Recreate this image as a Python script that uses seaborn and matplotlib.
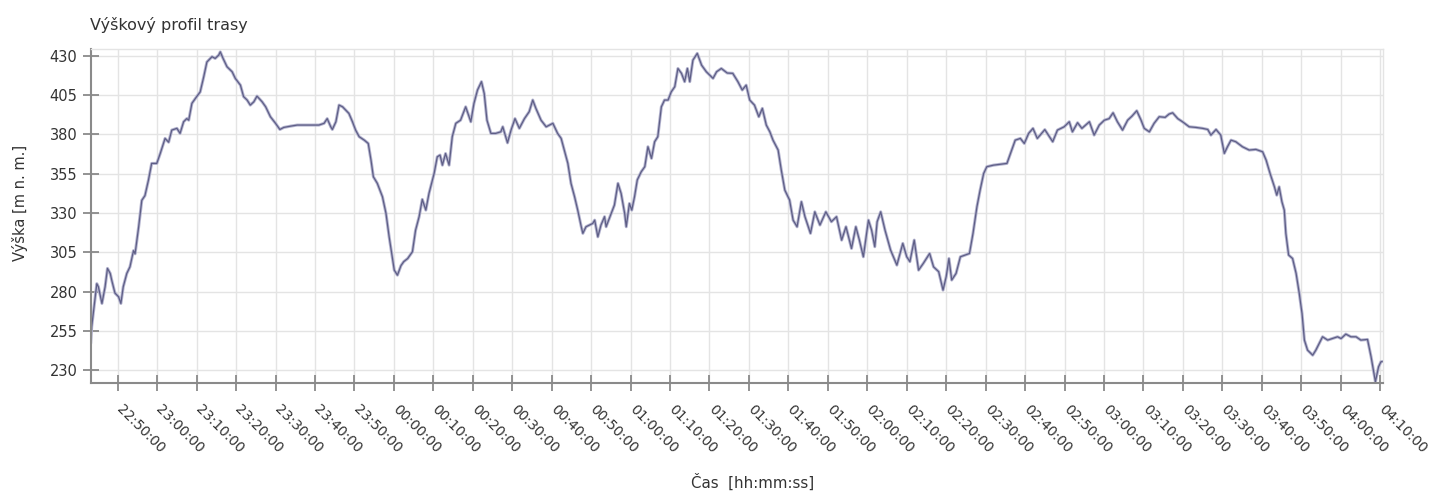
import numpy as np
import pandas as pd
import matplotlib
matplotlib.use("Agg")
import matplotlib.pyplot as plt
import matplotlib.dates as mdates
import matplotlib.transforms as mtransforms
import seaborn as sns

# -------------------------------------------------------------------------
# Data: minutes after 22:50:00 and elevation [m n. m.]
# -------------------------------------------------------------------------

START = "2000-01-01 22:50:00"

MINUTES = [
    -6.85, -6.6, -5.8, -5.3, -4.9, -4.0, -3.2, -2.6, -1.9, -1.5, -0.7, 0.2, 0.8,
    1.4, 2.3, 3.1, 4.0, 4.4, 5.3, 6.1, 6.9, 7.8, 8.6, 9.9, 10.8, 12.0, 12.9,
    13.7, 15.0, 15.8, 16.7, 17.5, 18.0, 18.8, 19.7, 20.9, 21.8, 22.6, 23.9,
    24.7, 25.6, 26.0, 26.7, 27.7, 29.0, 29.8, 31.1, 31.9, 32.8, 33.6, 34.5,
    35.3, 36.6, 37.5, 38.7, 40.0, 41.1, 42.1, 43.8, 45.5, 48.1, 51.0, 52.3,
    53.1, 54.0, 54.4, 55.3, 56.1, 57.0, 57.8, 58.6, 59.5, 60.3, 61.2, 62.5,
    63.5, 64.2, 64.8, 65.8, 67.1, 68.0, 68.8, 69.7, 70.1, 70.9, 71.8, 72.5,
    73.5, 74.7, 75.5, 76.4, 77.2, 78.1, 78.9, 80.2, 81.0, 81.7, 82.3, 83.1,
    84.0, 84.8, 85.7, 86.9, 88.2, 89.5, 90.3, 91.2, 92.2, 92.9, 93.6, 94.6,
    95.8, 97.1, 97.6, 98.8, 99.7, 100.7, 101.8, 103.1, 104.3, 105.2, 106.0,
    107.3, 108.6, 110.3, 111.5, 112.4, 113.2, 114.1, 114.9, 115.8, 116.6,
    117.5, 117.9, 118.7, 120.4, 120.9, 121.7, 122.5, 123.4, 123.8, 125.1,
    125.9, 126.8, 127.6, 128.5, 128.9, 129.7, 130.3, 131.0, 131.7, 132.7,
    133.6, 134.4, 135.3, 136.1, 136.9, 137.8, 138.6, 139.5, 140.3, 141.2,
    142.0, 142.9, 143.7, 144.4, 145.0, 145.8, 146.9, 148.0, 149.2, 150.9,
    151.8, 153.0, 154.5, 155.9, 157.2, 158.3, 159.3, 160.2, 161.4, 162.5,
    163.4, 164.4, 165.3, 166.1, 167.4, 168.2, 169.1, 170.3, 171.2, 172.2,
    173.3, 174.2, 175.6, 176.7, 178.0, 179.5, 180.9, 182.2, 183.5, 184.6,
    186.0, 187.1, 188.0, 189.0, 190.3, 191.1, 191.9, 192.5, 193.4, 194.5,
    195.9, 197.5, 199.0, 200.0, 200.8, 201.9, 203.0, 204.2, 205.8, 206.8,
    208.1, 209.2, 210.0, 210.7, 211.4, 212.5, 213.6, 214.8, 215.9, 216.8,
    217.8, 218.6, 219.5, 220.3, 222.0, 224.2, 225.4, 226.3, 227.5, 228.8,
    229.8, 230.9, 232.0, 233.1, 235.0, 237.0, 238.2, 239.9, 241.2, 242.0,
    243.3, 244.4, 246.3, 247.5, 248.8, 250.1, 251.3, 252.3, 253.4, 254.7,
    256.0, 257.1, 258.3, 259.4, 260.2, 261.5, 262.7, 264.0, 265.5, 266.5,
    267.4, 268.7, 269.9, 271.6, 273.3, 275.0, 276.3, 277.1, 278.4, 279.6,
    280.5, 281.3, 282.2, 283.4, 285.1, 286.8, 288.5, 290.2, 291.1, 292.1,
    293.2, 293.8, 294.4, 295.1, 295.7, 296.1, 296.8, 297.8, 298.7, 299.5,
    300.2, 300.8, 301.6, 302.9, 303.7, 305.4, 306.7, 307.9, 309.2, 310.1,
    311.3, 312.6, 313.9, 315.1, 316.8, 317.7, 318.8, 319.6, 320.2, 320.7,
]

ELEVATION = [
    247, 257.6, 274.5, 285, 283, 272.4, 283, 294.7, 291.5, 287, 279, 276.7, 272.4,
    283, 291.5, 295.7, 306, 304, 321, 338, 341, 351, 361.5, 361.5, 368, 377.4, 375,
    382.7, 383.8, 380.6, 388, 390, 389, 399.7, 402.9, 407, 416.6, 426, 429.4,
    428.3, 430.4, 432.5, 428.3, 423, 419.8, 415.6, 411.3, 404, 401.8, 398.6, 400.7,
    404.3, 400.7, 397.5, 391.2, 387, 383.1, 384.4, 385.2, 385.9, 385.9, 385.9, 387,
    390, 384.8, 383.1, 388, 398.6, 397.5, 395.4, 393.3, 388, 382.7, 378.5, 376.3,
    374.2, 363.6, 353, 348.8, 340.3, 329.7, 314.8, 300, 293.6, 290.4, 296.5, 299,
    301, 305.3, 319, 327.6, 338.6, 331.8, 342.4, 355.1, 365.7, 366.8, 360.4, 367.8,
    360.4, 378.5, 387, 389, 397.5, 388, 399.7, 408.2, 413.5, 406, 389, 380.6,
    380.6, 381.6, 384.8, 374.6, 382.7, 390, 383.8, 390, 394.4, 401.8, 396.5,
    389, 384.8, 387, 380.6, 377.4, 370, 361.5, 348.8, 340.3, 331.8,
    321.2, 317, 321.2, 323.3, 325.4, 314.8, 322.3, 327.6, 321.2, 329.7,
    335, 348.8, 342.4, 329.7, 321.2, 336, 331.8, 340.3, 351, 356.2,
    359.4, 372.1, 364.7, 375.3, 378.5, 397.5, 401.8, 401.8, 407, 410.3,
    421.9, 418.8, 413.5, 421.9, 413.5, 427.2, 431.5, 424, 419.8, 415.6,
    419.8, 421.9, 419, 418.8, 413.5, 408.2, 411.3, 401.8, 398.6, 391.2,
    396.5, 385.9, 381.6, 376.3, 370, 357.3, 344.5, 338.2, 325.4, 321.2,
    337.1, 327.6, 317, 330.7, 322.3, 330.7, 324.4, 327.6, 312.7, 321.2,
    307.4, 321.2, 312.7, 302.1, 325.4, 319, 308.5, 324.4, 330.7, 319,
    306.4, 296.8, 310.6, 302.1, 299, 312.7, 293.6, 297.9, 304.2, 295.7,
    292.6, 280.9, 289.4, 301, 287.3, 291.5, 302.1, 303.2, 304.2, 317,
    334, 344.5, 355.1, 359.4, 360.4, 361.1, 361.5, 367.9, 376.3, 377.4,
    374.2, 380.6, 383.8, 377.4, 383, 375.3, 382.7, 384.8, 388, 381.6,
    387.4, 383.8, 388, 379.5, 385.9, 389, 390, 393.7, 388, 382.7,
    389, 391.6, 395, 389, 383.8, 381.6, 387, 391.2, 390.8, 392.9,
    393.7, 390, 388, 384.8, 384.4, 383.8, 383.1, 379.5, 383.1, 379.5,
    367.9, 372.1, 376.3, 375.3, 372.1, 370, 370.4, 368.9, 363.6, 355.1,
    346.6, 341.3, 346.6, 337.1, 331.8, 317, 303.2, 301, 291.5, 278.8,
    266, 249.1, 242.7, 239.5, 242.7, 251.2, 249.1, 250.1, 251.2, 250.1,
    252.9, 251.2, 251.2, 249.1, 249.5, 238.5, 222.6, 232.1, 235.3, 235.5,
]

Y_TICKS = [230, 255, 280, 305, 330, 355, 380, 405, 430]

TITLE = "Výškový profil trasy"
Y_LABEL = "Výška [m n. m.]"
X_LABEL = "Čas  [hh:mm:ss]"

LINE_COLOR = "#5e5e86"
HALO_COLOR = "#b4b4cf"
AXIS_COLOR = "#8a8a8a"
GRID_COLOR = "#e4e4e4"
TEXT_COLOR = "#333333"

# -------------------------------------------------------------------------
# Build frame
# -------------------------------------------------------------------------

df = pd.DataFrame({
    "time": pd.Timestamp(START) + pd.to_timedelta(MINUTES, unit="min"),
    "elevation": ELEVATION,
})

sns.set_theme(style="white")
plt.rcParams["font.family"] = ["DejaVu Sans"]

W, H = 1433, 491
fig = plt.figure(figsize=(W / 100, H / 100), dpi=100)
ax = fig.add_axes([90.7 / W, 1 - 383 / H, (1383.3 - 90.7) / W, (383 - 49.3) / H])

sns.lineplot(data=df, x="time", y="elevation", ax=ax, color=HALO_COLOR,
             linewidth=2.2, sort=False)
sns.lineplot(data=df, x="time", y="elevation", ax=ax, color=LINE_COLOR,
             linewidth=0.9, sort=False)

ax.set_xlim(df["time"].iloc[0], pd.Timestamp(START) + pd.Timedelta(minutes=320.8))
ax.set_ylim(221.8, 434.1)
ax.set_yticks(Y_TICKS)

ax.xaxis.set_major_locator(mdates.MinuteLocator(byminute=range(0, 60, 10)))
ax.xaxis.set_major_formatter(mdates.DateFormatter("%H:%M:%S"))

ax.grid(True, color=GRID_COLOR, linewidth=1.0)
ax.set_axisbelow(True)

for side in ["left", "bottom"]:
    ax.spines[side].set_color(AXIS_COLOR)
    ax.spines[side].set_linewidth(1.5)
for side in ["top", "right"]:
    ax.spines[side].set_color(GRID_COLOR)
    ax.spines[side].set_linewidth(1.0)

ax.tick_params(axis="both", direction="inout", length=11, width=1.3,
               color=AXIS_COLOR, labelcolor=TEXT_COLOR,
               left=True, bottom=True)
ax.tick_params(axis="y", pad=4, labelsize=10.5)
ax.tick_params(axis="x", pad=8, labelsize=10)

shift = mtransforms.ScaledTranslation(6 / 100, 0, fig.dpi_scale_trans)
for lbl in ax.get_xticklabels():
    lbl.set_rotation(-45)
    lbl.set_ha("left")
    lbl.set_va("top")
    lbl.set_rotation_mode("anchor")
    lbl.set_transform(lbl.get_transform() + shift)

ax.set_xlabel("")
ax.set_ylabel("")

fig.text(90 / W, 1 - 25 / H, TITLE, ha="left", va="center", fontsize=11.5,
         color=TEXT_COLOR)
fig.text(20 / W, 1 - 203 / H, Y_LABEL, ha="center", va="center", rotation=90,
         fontsize=10.5, color=TEXT_COLOR)
fig.text(753 / W, 1 - 482 / H, X_LABEL, ha="center", va="center", fontsize=10.8,
         color=TEXT_COLOR)

fig.savefig("out.png", dpi=100)
